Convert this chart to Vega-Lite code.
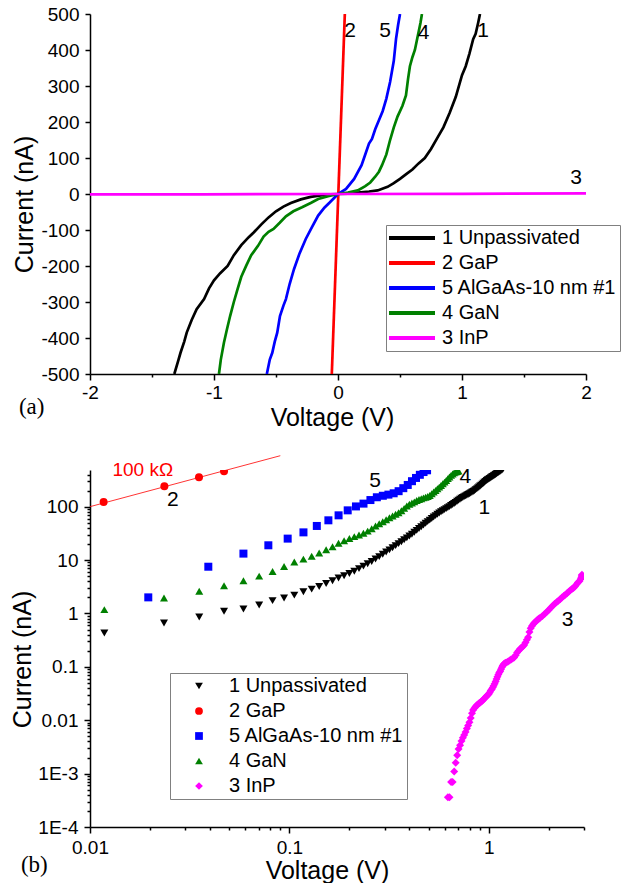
{
  "$schema": "https://vega.github.io/schema/vega-lite/v6.json",
  "padding": {"left": 10, "top": 5, "right": 2, "bottom": 0},
  "spacing": 96,
  "bounds": "flush",
  "resolve": {"scale": {"color": "independent", "shape": "independent"}, "legend": {"color": "independent", "shape": "independent"}},
  "config": {
    "font": "Liberation Sans",
    "view": {"stroke": null},
    "axis": {"domainColor": "#000", "domainWidth": 1.5, "tickColor": "#000", "tickWidth": 1.5, "labelColor": "#000", "titleColor": "#000", "labelFont": "Liberation Sans", "titleFont": "Liberation Sans", "titleFontWeight": "normal", "labelFontSize": 19, "titleFontSize": 25, "grid": false, "labelFlush": false, "labelOverlap": false, "labelBound": false},
    "legend": {"labelFont": "Liberation Sans", "labelColor": "#000", "labelFontSize": 20, "labelLimit": 400}
  },
  "datasets": {
    "a": [
      {"s":"1 Unpassivated","v":-1.32,"i":-500},{"s":"1 Unpassivated","v":-1.29,"i":-465},{"s":"1 Unpassivated","v":-1.27,"i":-441},{"s":"1 Unpassivated","v":-1.24,"i":-410},{"s":"1 Unpassivated","v":-1.22,"i":-385},{"s":"1 Unpassivated","v":-1.18,"i":-350},{"s":"1 Unpassivated","v":-1.14,"i":-320},{"s":"1 Unpassivated","v":-1.08,"i":-292},{"s":"1 Unpassivated","v":-1.04,"i":-262},{"s":"1 Unpassivated","v":-1.0,"i":-240},{"s":"1 Unpassivated","v":-0.95,"i":-220},{"s":"1 Unpassivated","v":-0.89,"i":-200},{"s":"1 Unpassivated","v":-0.84,"i":-170},{"s":"1 Unpassivated","v":-0.78,"i":-142},{"s":"1 Unpassivated","v":-0.72,"i":-120},{"s":"1 Unpassivated","v":-0.68,"i":-107},{"s":"1 Unpassivated","v":-0.62,"i":-85},{"s":"1 Unpassivated","v":-0.56,"i":-65},{"s":"1 Unpassivated","v":-0.5,"i":-48},{"s":"1 Unpassivated","v":-0.44,"i":-35},{"s":"1 Unpassivated","v":-0.38,"i":-25},{"s":"1 Unpassivated","v":-0.3,"i":-15},{"s":"1 Unpassivated","v":-0.22,"i":-8},{"s":"1 Unpassivated","v":-0.14,"i":-4},{"s":"1 Unpassivated","v":-0.06,"i":-1},{"s":"1 Unpassivated","v":0,"i":0},{"s":"1 Unpassivated","v":0.08,"i":1},{"s":"1 Unpassivated","v":0.16,"i":4},{"s":"1 Unpassivated","v":0.25,"i":7},{"s":"1 Unpassivated","v":0.32,"i":10},{"s":"1 Unpassivated","v":0.4,"i":20},{"s":"1 Unpassivated","v":0.45,"i":30},{"s":"1 Unpassivated","v":0.5,"i":42},{"s":"1 Unpassivated","v":0.55,"i":55},{"s":"1 Unpassivated","v":0.6,"i":68},{"s":"1 Unpassivated","v":0.65,"i":85},{"s":"1 Unpassivated","v":0.7,"i":100},{"s":"1 Unpassivated","v":0.75,"i":125},{"s":"1 Unpassivated","v":0.8,"i":155},{"s":"1 Unpassivated","v":0.85,"i":185},{"s":"1 Unpassivated","v":0.9,"i":225},{"s":"1 Unpassivated","v":0.95,"i":270},{"s":"1 Unpassivated","v":1.0,"i":330},{"s":"1 Unpassivated","v":1.03,"i":355},{"s":"1 Unpassivated","v":1.06,"i":390},{"s":"1 Unpassivated","v":1.09,"i":430},{"s":"1 Unpassivated","v":1.11,"i":445},{"s":"1 Unpassivated","v":1.13,"i":475},{"s":"1 Unpassivated","v":1.145,"i":500},
      {"s":"2 GaP","v":-0.05,"i":-500},{"s":"2 GaP","v":0.055,"i":500},
      {"s":"5 AlGaAs-10 nm #1","v":-0.574,"i":-500},{"s":"5 AlGaAs-10 nm #1","v":-0.55,"i":-460},{"s":"5 AlGaAs-10 nm #1","v":-0.53,"i":-441},{"s":"5 AlGaAs-10 nm #1","v":-0.51,"i":-410},{"s":"5 AlGaAs-10 nm #1","v":-0.49,"i":-385},{"s":"5 AlGaAs-10 nm #1","v":-0.468,"i":-339},{"s":"5 AlGaAs-10 nm #1","v":-0.44,"i":-310},{"s":"5 AlGaAs-10 nm #1","v":-0.42,"i":-292},{"s":"5 AlGaAs-10 nm #1","v":-0.39,"i":-250},{"s":"5 AlGaAs-10 nm #1","v":-0.355,"i":-209},{"s":"5 AlGaAs-10 nm #1","v":-0.31,"i":-165},{"s":"5 AlGaAs-10 nm #1","v":-0.26,"i":-125},{"s":"5 AlGaAs-10 nm #1","v":-0.21,"i":-92},{"s":"5 AlGaAs-10 nm #1","v":-0.16,"i":-60},{"s":"5 AlGaAs-10 nm #1","v":-0.11,"i":-38},{"s":"5 AlGaAs-10 nm #1","v":-0.065,"i":-23},{"s":"5 AlGaAs-10 nm #1","v":0,"i":0},{"s":"5 AlGaAs-10 nm #1","v":0.065,"i":14},{"s":"5 AlGaAs-10 nm #1","v":0.13,"i":42},{"s":"5 AlGaAs-10 nm #1","v":0.19,"i":80},{"s":"5 AlGaAs-10 nm #1","v":0.226,"i":116},{"s":"5 AlGaAs-10 nm #1","v":0.25,"i":140},{"s":"5 AlGaAs-10 nm #1","v":0.274,"i":153},{"s":"5 AlGaAs-10 nm #1","v":0.3,"i":180},{"s":"5 AlGaAs-10 nm #1","v":0.33,"i":205},{"s":"5 AlGaAs-10 nm #1","v":0.36,"i":230},{"s":"5 AlGaAs-10 nm #1","v":0.39,"i":265},{"s":"5 AlGaAs-10 nm #1","v":0.42,"i":311},{"s":"5 AlGaAs-10 nm #1","v":0.45,"i":370},{"s":"5 AlGaAs-10 nm #1","v":0.468,"i":431},{"s":"5 AlGaAs-10 nm #1","v":0.485,"i":470},{"s":"5 AlGaAs-10 nm #1","v":0.5,"i":500},
      {"s":"4 GaN","v":-0.96,"i":-500},{"s":"4 GaN","v":-0.945,"i":-460},{"s":"4 GaN","v":-0.92,"i":-413},{"s":"4 GaN","v":-0.895,"i":-375},{"s":"4 GaN","v":-0.87,"i":-339},{"s":"4 GaN","v":-0.84,"i":-300},{"s":"4 GaN","v":-0.81,"i":-264},{"s":"4 GaN","v":-0.78,"i":-230},{"s":"4 GaN","v":-0.74,"i":-199},{"s":"4 GaN","v":-0.7,"i":-170},{"s":"4 GaN","v":-0.645,"i":-144},{"s":"4 GaN","v":-0.6,"i":-118},{"s":"4 GaN","v":-0.56,"i":-105},{"s":"4 GaN","v":-0.52,"i":-97},{"s":"4 GaN","v":-0.47,"i":-80},{"s":"4 GaN","v":-0.42,"i":-62},{"s":"4 GaN","v":-0.36,"i":-48},{"s":"4 GaN","v":-0.29,"i":-37},{"s":"4 GaN","v":-0.22,"i":-25},{"s":"4 GaN","v":-0.16,"i":-14},{"s":"4 GaN","v":-0.08,"i":-6},{"s":"4 GaN","v":0,"i":0},{"s":"4 GaN","v":0.08,"i":4},{"s":"4 GaN","v":0.16,"i":10},{"s":"4 GaN","v":0.22,"i":22},{"s":"4 GaN","v":0.26,"i":32},{"s":"4 GaN","v":0.3,"i":48},{"s":"4 GaN","v":0.33,"i":62},{"s":"4 GaN","v":0.355,"i":80},{"s":"4 GaN","v":0.39,"i":110},{"s":"4 GaN","v":0.42,"i":150},{"s":"4 GaN","v":0.45,"i":185},{"s":"4 GaN","v":0.48,"i":215},{"s":"4 GaN","v":0.52,"i":245},{"s":"4 GaN","v":0.548,"i":274},{"s":"4 GaN","v":0.565,"i":320},{"s":"4 GaN","v":0.58,"i":355},{"s":"4 GaN","v":0.6,"i":380},{"s":"4 GaN","v":0.62,"i":400},{"s":"4 GaN","v":0.635,"i":425},{"s":"4 GaN","v":0.65,"i":450},{"s":"4 GaN","v":0.665,"i":475},{"s":"4 GaN","v":0.677,"i":500},
      {"s":"3 InP","v":-2,"i":-1},{"s":"3 InP","v":-1.1,"i":-1},{"s":"3 InP","v":0,"i":0},{"s":"3 InP","v":1,"i":0.5},{"s":"3 InP","v":2,"i":1.5}
    ],
    "alab": [
      {"v":0.097,"i":454,"t":"2"},{"v":0.38,"i":454,"t":"5"},{"v":0.69,"i":448,"t":"4"},{"v":1.17,"i":454,"t":"1"},{"v":1.92,"i":44,"t":"3"}
    ],
    "b": [
      {"s":"1 Unpassivated","v":0.0118,"i":0.43},{"s":"1 Unpassivated","v":0.0235,"i":0.66},{"s":"1 Unpassivated","v":0.0353,"i":0.86},{"s":"1 Unpassivated","v":0.047,"i":1.1},{"s":"1 Unpassivated","v":0.0588,"i":1.21},{"s":"1 Unpassivated","v":0.0705,"i":1.44},{"s":"1 Unpassivated","v":0.0823,"i":1.74},{"s":"1 Unpassivated","v":0.094,"i":1.95},{"s":"1 Unpassivated","v":0.1058,"i":2.2},{"s":"1 Unpassivated","v":0.1175,"i":2.55},
      {"s":"1 Unpassivated","v":0.1293,"i":2.85},{"s":"1 Unpassivated","v":0.141,"i":3.2},{"s":"1 Unpassivated","v":0.1528,"i":3.65},{"s":"1 Unpassivated","v":0.1645,"i":4.1},{"s":"1 Unpassivated","v":0.1763,"i":4.6},{"s":"1 Unpassivated","v":0.188,"i":5.1},{"s":"1 Unpassivated","v":0.1998,"i":5.6},{"s":"1 Unpassivated","v":0.2115,"i":6.15},{"s":"1 Unpassivated","v":0.2233,"i":6.9},{"s":"1 Unpassivated","v":0.235,"i":7.7},
      {"s":"1 Unpassivated","v":0.2468,"i":8.5},{"s":"1 Unpassivated","v":0.2585,"i":9.4},{"s":"1 Unpassivated","v":0.2703,"i":10.5},{"s":"1 Unpassivated","v":0.282,"i":11.6},{"s":"1 Unpassivated","v":0.2938,"i":12.8},{"s":"1 Unpassivated","v":0.3055,"i":14.1},{"s":"1 Unpassivated","v":0.3173,"i":15.5},{"s":"1 Unpassivated","v":0.329,"i":17},{"s":"1 Unpassivated","v":0.3408,"i":18.6},{"s":"1 Unpassivated","v":0.3525,"i":20.3},
      {"s":"1 Unpassivated","v":0.3643,"i":22.1},{"s":"1 Unpassivated","v":0.376,"i":24},{"s":"1 Unpassivated","v":0.3878,"i":26},{"s":"1 Unpassivated","v":0.3995,"i":28.2},{"s":"1 Unpassivated","v":0.4113,"i":30.5},{"s":"1 Unpassivated","v":0.423,"i":33.2},{"s":"1 Unpassivated","v":0.4348,"i":36},{"s":"1 Unpassivated","v":0.4465,"i":39},{"s":"1 Unpassivated","v":0.4583,"i":42},{"s":"1 Unpassivated","v":0.47,"i":45.5},
      {"s":"1 Unpassivated","v":0.4818,"i":49},{"s":"1 Unpassivated","v":0.4935,"i":52.5},{"s":"1 Unpassivated","v":0.5053,"i":56},{"s":"1 Unpassivated","v":0.517,"i":60},{"s":"1 Unpassivated","v":0.5288,"i":64},{"s":"1 Unpassivated","v":0.5405,"i":68},{"s":"1 Unpassivated","v":0.5523,"i":72},{"s":"1 Unpassivated","v":0.564,"i":76},{"s":"1 Unpassivated","v":0.5758,"i":80},{"s":"1 Unpassivated","v":0.5875,"i":84},
      {"s":"1 Unpassivated","v":0.5993,"i":88},{"s":"1 Unpassivated","v":0.611,"i":92},{"s":"1 Unpassivated","v":0.6228,"i":96},{"s":"1 Unpassivated","v":0.6345,"i":100},{"s":"1 Unpassivated","v":0.6463,"i":105},{"s":"1 Unpassivated","v":0.658,"i":110},{"s":"1 Unpassivated","v":0.6698,"i":115},{"s":"1 Unpassivated","v":0.6815,"i":120},{"s":"1 Unpassivated","v":0.6933,"i":126},{"s":"1 Unpassivated","v":0.705,"i":132},
      {"s":"1 Unpassivated","v":0.7168,"i":138},{"s":"1 Unpassivated","v":0.7285,"i":144},{"s":"1 Unpassivated","v":0.7403,"i":149},{"s":"1 Unpassivated","v":0.752,"i":154},{"s":"1 Unpassivated","v":0.7638,"i":159},{"s":"1 Unpassivated","v":0.7755,"i":164},{"s":"1 Unpassivated","v":0.7873,"i":169},{"s":"1 Unpassivated","v":0.799,"i":174},{"s":"1 Unpassivated","v":0.8108,"i":180},{"s":"1 Unpassivated","v":0.8225,"i":186},
      {"s":"1 Unpassivated","v":0.8343,"i":192},{"s":"1 Unpassivated","v":0.846,"i":199},{"s":"1 Unpassivated","v":0.8578,"i":207},{"s":"1 Unpassivated","v":0.8695,"i":215},{"s":"1 Unpassivated","v":0.8813,"i":224},{"s":"1 Unpassivated","v":0.893,"i":233},{"s":"1 Unpassivated","v":0.9048,"i":243},{"s":"1 Unpassivated","v":0.9165,"i":253},{"s":"1 Unpassivated","v":0.9283,"i":264},{"s":"1 Unpassivated","v":0.94,"i":275},
      {"s":"1 Unpassivated","v":0.9518,"i":287},{"s":"1 Unpassivated","v":0.9635,"i":298},{"s":"1 Unpassivated","v":0.9753,"i":308},{"s":"1 Unpassivated","v":0.987,"i":318},{"s":"1 Unpassivated","v":0.9988,"i":328},{"s":"1 Unpassivated","v":1.0105,"i":338},{"s":"1 Unpassivated","v":1.0223,"i":348},{"s":"1 Unpassivated","v":1.034,"i":358},{"s":"1 Unpassivated","v":1.0458,"i":368},{"s":"1 Unpassivated","v":1.0575,"i":378},
      {"s":"1 Unpassivated","v":1.0693,"i":388},{"s":"1 Unpassivated","v":1.081,"i":400},{"s":"1 Unpassivated","v":1.0928,"i":412},{"s":"1 Unpassivated","v":1.1045,"i":425},{"s":"1 Unpassivated","v":1.1163,"i":438},{"s":"1 Unpassivated","v":1.128,"i":450},{"s":"1 Unpassivated","v":1.1398,"i":462},{"s":"1 Unpassivated","v":1.1515,"i":475},{"s":"1 Unpassivated","v":1.1633,"i":487},{"s":"1 Unpassivated","v":1.175,"i":500},
      {"s":"2 GaP","v":0.0117,"i":122},{"s":"2 GaP","v":0.0236,"i":240},{"s":"2 GaP","v":0.0352,"i":354},{"s":"2 GaP","v":0.047,"i":459},{"s":"2 GaP","v":0.0588,"i":588},
      {"s":"5 AlGaAs-10 nm #1","v":0.0196,"i":2.0},{"s":"5 AlGaAs-10 nm #1","v":0.0392,"i":7.5},{"s":"5 AlGaAs-10 nm #1","v":0.0588,"i":13.2},{"s":"5 AlGaAs-10 nm #1","v":0.0784,"i":18.9},{"s":"5 AlGaAs-10 nm #1","v":0.098,"i":25.2},{"s":"5 AlGaAs-10 nm #1","v":0.1176,"i":33},{"s":"5 AlGaAs-10 nm #1","v":0.1372,"i":43.5},{"s":"5 AlGaAs-10 nm #1","v":0.1568,"i":55.5},{"s":"5 AlGaAs-10 nm #1","v":0.1764,"i":68.8},{"s":"5 AlGaAs-10 nm #1","v":0.196,"i":85.3},
      {"s":"5 AlGaAs-10 nm #1","v":0.2156,"i":101},{"s":"5 AlGaAs-10 nm #1","v":0.2352,"i":114},{"s":"5 AlGaAs-10 nm #1","v":0.2548,"i":133},{"s":"5 AlGaAs-10 nm #1","v":0.2744,"i":150},{"s":"5 AlGaAs-10 nm #1","v":0.294,"i":160},{"s":"5 AlGaAs-10 nm #1","v":0.3136,"i":168},{"s":"5 AlGaAs-10 nm #1","v":0.3332,"i":178},{"s":"5 AlGaAs-10 nm #1","v":0.3528,"i":195},{"s":"5 AlGaAs-10 nm #1","v":0.3724,"i":222},{"s":"5 AlGaAs-10 nm #1","v":0.392,"i":255},
      {"s":"5 AlGaAs-10 nm #1","v":0.4116,"i":300},{"s":"5 AlGaAs-10 nm #1","v":0.4312,"i":345},{"s":"5 AlGaAs-10 nm #1","v":0.4508,"i":395},{"s":"5 AlGaAs-10 nm #1","v":0.4704,"i":445},{"s":"5 AlGaAs-10 nm #1","v":0.49,"i":480},
      {"s":"4 GaN","v":0.0118,"i":1.18},{"s":"4 GaN","v":0.0235,"i":1.95},{"s":"4 GaN","v":0.0353,"i":2.6},{"s":"4 GaN","v":0.047,"i":3.3},{"s":"4 GaN","v":0.0588,"i":4.1},{"s":"4 GaN","v":0.0705,"i":5.0},{"s":"4 GaN","v":0.0823,"i":6.1},{"s":"4 GaN","v":0.094,"i":7.6},{"s":"4 GaN","v":0.1058,"i":9.2},{"s":"4 GaN","v":0.1175,"i":10.4},
      {"s":"4 GaN","v":0.1293,"i":11.8},{"s":"4 GaN","v":0.141,"i":13.6},{"s":"4 GaN","v":0.1528,"i":15.6},{"s":"4 GaN","v":0.1645,"i":17.8},{"s":"4 GaN","v":0.1763,"i":20.6},{"s":"4 GaN","v":0.188,"i":23},{"s":"4 GaN","v":0.1998,"i":25.4},{"s":"4 GaN","v":0.2115,"i":27.5},{"s":"4 GaN","v":0.2233,"i":29.5},{"s":"4 GaN","v":0.235,"i":31.8},
      {"s":"4 GaN","v":0.2468,"i":34.8},{"s":"4 GaN","v":0.2585,"i":38.5},{"s":"4 GaN","v":0.2703,"i":43.5},{"s":"4 GaN","v":0.282,"i":48},{"s":"4 GaN","v":0.2938,"i":52},{"s":"4 GaN","v":0.3055,"i":57},{"s":"4 GaN","v":0.3173,"i":62},{"s":"4 GaN","v":0.329,"i":67},{"s":"4 GaN","v":0.3408,"i":72},{"s":"4 GaN","v":0.3525,"i":77},
      {"s":"4 GaN","v":0.3643,"i":84},{"s":"4 GaN","v":0.376,"i":93},{"s":"4 GaN","v":0.3878,"i":103},{"s":"4 GaN","v":0.3995,"i":111},{"s":"4 GaN","v":0.4113,"i":117},{"s":"4 GaN","v":0.423,"i":123},{"s":"4 GaN","v":0.4348,"i":130},{"s":"4 GaN","v":0.4465,"i":136},{"s":"4 GaN","v":0.4583,"i":141},{"s":"4 GaN","v":0.47,"i":146},
      {"s":"4 GaN","v":0.4818,"i":150},{"s":"4 GaN","v":0.4935,"i":155},{"s":"4 GaN","v":0.5053,"i":162},{"s":"4 GaN","v":0.517,"i":175},{"s":"4 GaN","v":0.5288,"i":188},{"s":"4 GaN","v":0.5405,"i":200},{"s":"4 GaN","v":0.5523,"i":216},{"s":"4 GaN","v":0.564,"i":232},{"s":"4 GaN","v":0.5758,"i":250},{"s":"4 GaN","v":0.5875,"i":268},
      {"s":"4 GaN","v":0.5993,"i":288},{"s":"4 GaN","v":0.611,"i":310},{"s":"4 GaN","v":0.6228,"i":335},{"s":"4 GaN","v":0.6345,"i":360},{"s":"4 GaN","v":0.6463,"i":385},{"s":"4 GaN","v":0.658,"i":410},{"s":"4 GaN","v":0.6698,"i":430},{"s":"4 GaN","v":0.6815,"i":445},{"s":"4 GaN","v":0.6933,"i":455},{"s":"4 GaN","v":0.705,"i":465},
      {"s":"3 InP","v":0.623,"i":0.00036},{"s":"3 InP","v":0.635,"i":0.00036},{"s":"3 InP","v":0.647,"i":0.0007},{"s":"3 InP","v":0.658,"i":0.0007},{"s":"3 InP","v":0.67,"i":0.0011},{"s":"3 InP","v":0.682,"i":0.0016},{"s":"3 InP","v":0.694,"i":0.0022},{"s":"3 InP","v":0.705,"i":0.0029},{"s":"3 InP","v":0.717,"i":0.0034},{"s":"3 InP","v":0.729,"i":0.0041},
      {"s":"3 InP","v":0.741,"i":0.0047},{"s":"3 InP","v":0.752,"i":0.0053},{"s":"3 InP","v":0.764,"i":0.006},{"s":"3 InP","v":0.776,"i":0.007},{"s":"3 InP","v":0.787,"i":0.008},{"s":"3 InP","v":0.799,"i":0.0092},{"s":"3 InP","v":0.811,"i":0.011},{"s":"3 InP","v":0.823,"i":0.0135},{"s":"3 InP","v":0.834,"i":0.0155},{"s":"3 InP","v":0.846,"i":0.0168},
      {"s":"3 InP","v":0.858,"i":0.018},{"s":"3 InP","v":0.87,"i":0.019},{"s":"3 InP","v":0.881,"i":0.0198},{"s":"3 InP","v":0.893,"i":0.0207},{"s":"3 InP","v":0.905,"i":0.0215},{"s":"3 InP","v":0.916,"i":0.0223},{"s":"3 InP","v":0.928,"i":0.0232},{"s":"3 InP","v":0.94,"i":0.0245},{"s":"3 InP","v":0.952,"i":0.0258},{"s":"3 InP","v":0.963,"i":0.027},
      {"s":"3 InP","v":0.975,"i":0.0283},{"s":"3 InP","v":0.987,"i":0.0296},{"s":"3 InP","v":0.999,"i":0.031},{"s":"3 InP","v":1.01,"i":0.033},{"s":"3 InP","v":1.022,"i":0.036},{"s":"3 InP","v":1.034,"i":0.038},{"s":"3 InP","v":1.046,"i":0.041},{"s":"3 InP","v":1.057,"i":0.044},{"s":"3 InP","v":1.069,"i":0.048},{"s":"3 InP","v":1.081,"i":0.053},
      {"s":"3 InP","v":1.093,"i":0.059},{"s":"3 InP","v":1.104,"i":0.065},{"s":"3 InP","v":1.116,"i":0.072},{"s":"3 InP","v":1.128,"i":0.078},{"s":"3 InP","v":1.14,"i":0.083},{"s":"3 InP","v":1.151,"i":0.09},{"s":"3 InP","v":1.163,"i":0.098},{"s":"3 InP","v":1.175,"i":0.106},{"s":"3 InP","v":1.187,"i":0.112},{"s":"3 InP","v":1.198,"i":0.116},
      {"s":"3 InP","v":1.21,"i":0.118},{"s":"3 InP","v":1.222,"i":0.12},{"s":"3 InP","v":1.245,"i":0.125},{"s":"3 InP","v":1.269,"i":0.131},{"s":"3 InP","v":1.292,"i":0.137},{"s":"3 InP","v":1.316,"i":0.143},{"s":"3 InP","v":1.339,"i":0.15},{"s":"3 InP","v":1.363,"i":0.165},{"s":"3 InP","v":1.386,"i":0.185},{"s":"3 InP","v":1.41,"i":0.2},
      {"s":"3 InP","v":1.433,"i":0.215},{"s":"3 InP","v":1.457,"i":0.228},{"s":"3 InP","v":1.48,"i":0.24},{"s":"3 InP","v":1.504,"i":0.255},{"s":"3 InP","v":1.527,"i":0.285},{"s":"3 InP","v":1.551,"i":0.32},{"s":"3 InP","v":1.574,"i":0.36},{"s":"3 InP","v":1.598,"i":0.45},{"s":"3 InP","v":1.621,"i":0.53},{"s":"3 InP","v":1.645,"i":0.58},
      {"s":"3 InP","v":1.668,"i":0.63},{"s":"3 InP","v":1.692,"i":0.67},{"s":"3 InP","v":1.715,"i":0.7},{"s":"3 InP","v":1.739,"i":0.74},{"s":"3 InP","v":1.762,"i":0.77},{"s":"3 InP","v":1.786,"i":0.8},{"s":"3 InP","v":1.809,"i":0.83},{"s":"3 InP","v":1.856,"i":0.9},{"s":"3 InP","v":1.903,"i":0.98},{"s":"3 InP","v":1.95,"i":1.06},
      {"s":"3 InP","v":1.997,"i":1.16},{"s":"3 InP","v":2.044,"i":1.28},{"s":"3 InP","v":2.091,"i":1.4},{"s":"3 InP","v":2.138,"i":1.52},{"s":"3 InP","v":2.185,"i":1.62},{"s":"3 InP","v":2.232,"i":1.72},{"s":"3 InP","v":2.279,"i":1.85},{"s":"3 InP","v":2.326,"i":1.98},{"s":"3 InP","v":2.373,"i":2.12},{"s":"3 InP","v":2.42,"i":2.24},
      {"s":"3 InP","v":2.467,"i":2.38},{"s":"3 InP","v":2.514,"i":2.55},{"s":"3 InP","v":2.561,"i":2.72},{"s":"3 InP","v":2.608,"i":2.88},{"s":"3 InP","v":2.655,"i":3.0},{"s":"3 InP","v":2.702,"i":3.2},{"s":"3 InP","v":2.749,"i":3.5},{"s":"3 InP","v":2.796,"i":3.8},{"s":"3 InP","v":2.843,"i":4.0},{"s":"3 InP","v":2.89,"i":4.4},
      {"s":"3 InP","v":2.91,"i":4.7},{"s":"3 InP","v":2.92,"i":5.0},{"s":"3 InP","v":2.93,"i":5.3}
    ],
    "fit": [{"v":0.01,"i":100},{"v":0.09,"i":900}],
    "blab": [
      {"v":0.026,"i":135,"t":"2"},{"v":0.269,"i":299,"t":"5"},{"v":0.762,"i":355,"t":"4"},{"v":0.949,"i":94.5,"t":"1"},{"v":2.48,"i":0.77,"t":"3"}
    ]
  },
  "vconcat": [
    {
      "width": 496,
      "height": 360,
      "encoding": {
        "x": {"field": "v", "type": "quantitative", "title": "Voltage (V)", "scale": {"domain": [-2, 2], "nice": false, "zero": false},
          "axis": {"values": [-2,-1.5,-1,-0.5,0,0.5,1,1.5,2], "labelExpr": "datum.value % 1 == 0 ? toString(datum.value) : ''", "tickSize": {"condition": {"test": "datum.value % 1 != 0", "value": 3}, "value": 6}, "labelPadding": 3, "titleX": 242, "titleY": 31}},
        "y": {"field": "i", "type": "quantitative", "title": "Current (nA)", "scale": {"domain": [-500, 500], "nice": false, "zero": false},
          "axis": {"values": [-500,-400,-300,-200,-100,0,100,200,300,400,500], "labelExpr": "toString(datum.value)", "tickSize": 5, "labelPadding": 6, "titleX": -53, "titleY": 190}}
      },
      "layer": [
        {"mark": {"type": "rule", "color": "#555555", "strokeWidth": 1}, "encoding": {"x": {"datum": 0, "type": "quantitative"}, "y": {"datum": -500, "type": "quantitative"}, "y2": {"datum": 500}}},
        {"data": {"name": "a"}, "mark": {"type": "line", "clip": true, "strokeWidth": 2.7},
          "encoding": {
            "strokeWidth": {"condition": {"test": "datum.s == '3 InP'", "value": 3.5}, "value": 2.7},
            "color": {"field": "s", "type": "nominal", "sort": null,
            "scale": {"domain": ["1 Unpassivated","2 GaP","5 AlGaAs-10 nm #1","4 GaN","3 InP"], "range": ["#000000","#ff0000","#0000ff","#008000","#ff00ff"]},
            "legend": {"orient": "none", "legendX": 296, "legendY": 211, "title": null, "symbolType": "M-3.33,0H12", "symbolSize": 36, "symbolStrokeWidth": 4, "labelOffset": 33, "padding": 3, "rowPadding": 5, "strokeColor": "#808080", "fillColor": "#ffffff"}}}},
        {"data": {"name": "alab"}, "mark": {"type": "text", "fontSize": 21, "color": "#000"}, "encoding": {"text": {"field": "t"}}},
        {"data": {"values": [{"v": -2.47, "i": -593, "t": "(a)"}]}, "mark": {"type": "text", "font": "Liberation Serif", "fontSize": 23, "color": "#000"}, "encoding": {"text": {"field": "t"}}}
      ]
    },
    {
      "width": 494,
      "height": 357,
      "encoding": {
        "x": {"field": "v", "type": "quantitative", "title": "Voltage (V)", "scale": {"type": "log", "domain": [0.01, 3], "nice": false},
          "axis": {"values": [0.01,0.02,0.03,0.04,0.05,0.06,0.07,0.08,0.09,0.1,0.2,0.3,0.4,0.5,0.6,0.7,0.8,0.9,1,2,3],
            "labelExpr": "abs(log(datum.value)/LN10 - round(log(datum.value)/LN10)) > 0.01 ? '' : format(datum.value, '~g')",
            "tickSize": {"condition": {"test": "abs(log(datum.value)/LN10 - round(log(datum.value)/LN10)) > 0.01", "value": 3}, "value": 6},
            "labelPadding": 5, "titleX": 237, "titleY": 31}},
        "y": {"field": "i", "type": "quantitative", "title": "Current (nA)", "scale": {"type": "log", "domain": [0.0001, 486], "nice": false},
          "axis": {"values": [0.0001,0.0002,0.0003,0.0004,0.0005,0.0006,0.0007,0.0008,0.0009,0.001,0.002,0.003,0.004,0.005,0.006,0.007,0.008,0.009,0.01,0.02,0.03,0.04,0.05,0.06,0.07,0.08,0.09,0.1,0.2,0.3,0.4,0.5,0.6,0.7,0.8,0.9,1,2,3,4,5,6,7,8,9,10,20,30,40,50,60,70,80,90,100,200,300,400],
            "labelExpr": "abs(log(datum.value)/LN10 - round(log(datum.value)/LN10)) > 0.01 ? '' : (datum.value < 0.0005 ? '1E-4' : (datum.value < 0.005 ? '1E-3' : format(datum.value, '~g')))",
            "tickSize": {"condition": {"test": "abs(log(datum.value)/LN10 - round(log(datum.value)/LN10)) > 0.01", "value": 3}, "value": 6},
            "labelPadding": 6, "titleX": -55, "titleY": 189}}
      },
      "layer": [
        {"data": {"name": "fit"}, "mark": {"type": "line", "color": "#ff0000", "strokeWidth": 1, "opacity": 0.8, "clip": false}},
        {"data": {"name": "b"}, "mark": {"type": "point", "filled": true, "opacity": 1, "size": 64, "clip": true},
          "encoding": {
            "color": {"field": "s", "type": "nominal", "sort": null,
              "scale": {"domain": ["1 Unpassivated","2 GaP","5 AlGaAs-10 nm #1","4 GaN","3 InP"], "range": ["#000000","#ff0000","#0000ff","#008000","#ff00ff"]},
              "legend": {"orient": "none", "legendX": 80, "legendY": 203, "title": null, "symbolSize": 60, "symbolOffset": 16, "labelOffset": 20, "padding": 3, "rowPadding": 5, "strokeColor": "#808080", "fillColor": "#ffffff"}},
            "shape": {"field": "s", "type": "nominal", "sort": null,
              "scale": {"domain": ["1 Unpassivated","2 GaP","5 AlGaAs-10 nm #1","4 GaN","3 InP"], "range": ["triangle-down","circle","square","triangle-up","diamond"]},
              "legend": {"orient": "none", "legendX": 80, "legendY": 203, "title": null, "symbolSize": 60, "symbolOffset": 16, "labelOffset": 20, "padding": 3, "rowPadding": 5, "strokeColor": "#808080", "fillColor": "#ffffff"}}
          }},
        {"data": {"name": "blab"}, "mark": {"type": "text", "fontSize": 21, "color": "#000"}, "encoding": {"text": {"field": "t"}}},
        {"data": {"values": [{"v": 0.0184, "i": 486, "t": "100 kΩ"}]}, "mark": {"type": "text", "fontSize": 19, "color": "#ff0000"}, "encoding": {"text": {"field": "t"}}},
        {"data": {"values": [{"v": 0.00526, "i": 0.0000197, "t": "(b)"}]}, "mark": {"type": "text", "font": "Liberation Serif", "fontSize": 23, "color": "#000"}, "encoding": {"text": {"field": "t"}}}
      ]
    }
  ]
}
